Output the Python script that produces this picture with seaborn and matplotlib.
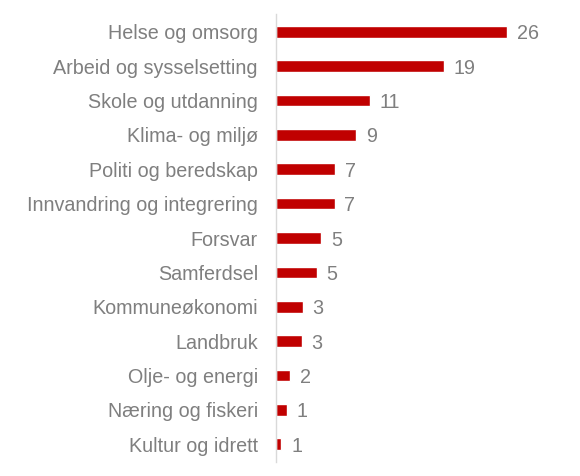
import matplotlib
matplotlib.use("Agg")
import matplotlib.pyplot as plt
import pandas as pd
import seaborn as sns

categories = ["Helse og omsorg", "Arbeid og sysselsetting", "Skole og utdanning",
              "Klima- og miljø", "Politi og beredskap", "Innvandring og integrering",
              "Forsvar", "Samferdsel", "Kommuneøkonomi", "Landbruk",
              "Olje- og energi", "Næring og fiskeri", "Kultur og idrett"]
values = [26.0, 18.9, 10.6, 9.0, 6.7, 6.6, 5.1, 4.6, 3.0, 2.9, 1.6, 1.2, 0.6]

data = pd.DataFrame({"Kategori": categories, "Andel": values})

sns.set_style("white")
plt.rcParams["font.family"] = ["Liberation Sans", "DejaVu Sans"]

fig = plt.figure(figsize=(5.8, 4.76), dpi=100)
ax = fig.add_axes([276 / 580, 14.5 / 476, 284 / 580, 447 / 476])

sns.barplot(data=data, x="Andel", y="Kategori", color="#C00000",
            saturation=1, width=0.34, ax=ax)

for i, v in enumerate(values):
    ax.text(v + 1.1, i, f"{v:.0f}", va="center_baseline", ha="left",
            fontsize=14.2, color="#7f7f7f")

ax.set_xlim(0, 32)
ax.set_ylim(12.5, -0.5)
ax.set_xlabel("")
ax.set_ylabel("")
ax.set_xticks([])
ax.tick_params(axis="y", length=0, pad=13, labelsize=14.2, labelcolor="#7f7f7f")
for side in ["top", "right", "bottom"]:
    ax.spines[side].set_visible(False)
ax.spines["left"].set_color("#d9d9d9")
ax.spines["left"].set_linewidth(1.0)

fig.savefig("out.png", dpi=100)
